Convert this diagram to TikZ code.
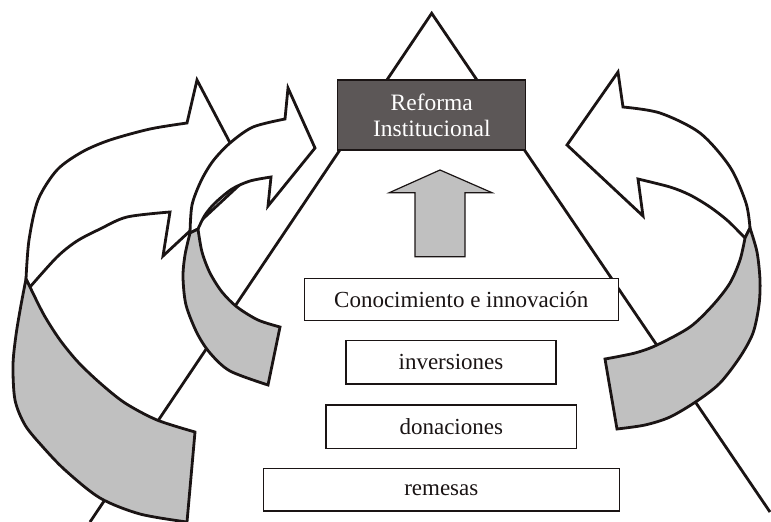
\documentclass[tikz,border=0pt]{standalone}
\usepackage{fontspec}
\setmainfont{Liberation Serif}
\definecolor{ribbongray}{HTML}{C0C0C0}
\definecolor{topgray}{HTML}{5C5757}
\definecolor{ink}{HTML}{1A1414}
\begin{document}
\begin{tikzpicture}[x=1pt,y=-1pt,
  edge/.style={line width=2.8pt, line join=miter, draw=ink},
  ribbonfront/.style={edge, fill=white},
  ribbonback/.style={edge, fill=ribbongray},
  levelbox/.style={draw=ink, line width=1.2pt, fill=white, inner sep=0pt,
    font=\fontsize{23}{26}\selectfont, text=ink},
  topbox/.style={draw=ink, line width=1.2pt, fill=topgray, inner sep=0pt,
    font=\fontsize{23.5}{26}\selectfont, text=white, align=center},
  uparrow/.style={draw=ink, line width=1.2pt, fill=ribbongray, line join=miter}
]
\useasboundingbox (0,0) rectangle (771,522);

% pyramid sides
\coordinate (apex) at (431.7,13.3);
\coordinate (baseL) at (90,522);
\coordinate (baseR) at (770,512);
\draw[edge] (baseL) -- (apex) -- (baseR);

% top of the pyramid
\node[topbox, minimum width=188pt, minimum height=70pt] (reforma) at (431.8,115)
  {Reforma\\Institucional};

% upward arrow
\draw[uparrow] (440,170) -- (492,192.7) -- (465,192.7) -- (465,256.7)
  -- (415,256.7) -- (415,192.7) -- (389.3,192.7) -- cycle;

% levels
\node[levelbox, minimum width=314pt, minimum height=42.4pt] (conoc) at (461.3,299.5)
  {Conocimiento e innovación};
\node[levelbox, minimum width=210pt, minimum height=43.3pt] (inver) at (451,362.3)
  {inversiones};
\node[levelbox, minimum width=250.7pt, minimum height=43.3pt] (donac) at (451.3,426.7)
  {donaciones};
\node[levelbox, minimum width=356pt, minimum height=42.7pt] (remes) at (441.3,489.7)
  {remesas};

% large left ribbon arrow: front face
\draw[ribbonfront]
  plot[smooth] coordinates {(26,279) (29,240) (38,200) (57,170) (82,152) (110,140) (150,129) (187,123)}
  -- (197,80) -- (248,177) -- (163,256) -- (170,212)
  -- plot[smooth] coordinates {(170,212) (127,217) (100,229) (77,241) (57,257) (30,287)}
  -- cycle;
% large left ribbon arrow: back face
\draw[ribbonback]
  plot[smooth] coordinates {(26,279) (21,305) (16,335) (13,365) (15,400) (25,425) (42,446) (65,470) (100,498) (140,514) (187,522)}
  -- (195,432)
  -- plot[smooth] coordinates {(195,432) (157,420) (125,403) (100,383) (78,362) (60,340) (44,315) (30,287)}
  -- cycle;

% small left ribbon arrow: front face
\draw[ribbonfront]
  plot[smooth] coordinates {(190,233) (192,205) (201,181) (213,161) (230,143) (253,127) (285,119)}
  -- (288,88) -- (315,148) -- (268,206) -- (271,177)
  -- plot[smooth] coordinates {(271,177) (250,181) (232,189) (215,203) (205,215) (198,229)}
  -- cycle;
% small left ribbon arrow: back face
\draw[ribbonback]
  plot[smooth] coordinates {(190,233) (185,255) (183,277) (186,305) (197,333) (210,353) (230,371) (268,385)}
  -- (280,327)
  -- plot[smooth] coordinates {(280,327) (258,320) (237,307) (222,292) (210,273) (202,252) (198,229)}
  -- cycle;

% right ribbon arrow: front face
\draw[ribbonfront]
  (618,72) -- (623,107)
  -- plot[smooth] coordinates {(623,107) (660,113) (700,133) (730,167) (746,203) (750,228)}
  -- (745,238)
  -- plot[smooth] coordinates {(745,238) (728,221) (710,207) (690,195) (670,187) (638,179)}
  -- (643,216) -- (567,145) -- cycle;
% right ribbon arrow: back face
\draw[ribbonback]
  plot[smooth] coordinates {(750,228) (757,252) (760,280) (759,305) (753,333) (740,357) (720,383) (697,401) (670,417) (645,425) (617,429)}
  -- (605,359)
  -- plot[smooth] coordinates {(605,359) (635,353) (657,345) (690,327) (713,305) (730,283) (740,260) (745,238)}
  -- cycle;
\end{tikzpicture}
\end{document}
